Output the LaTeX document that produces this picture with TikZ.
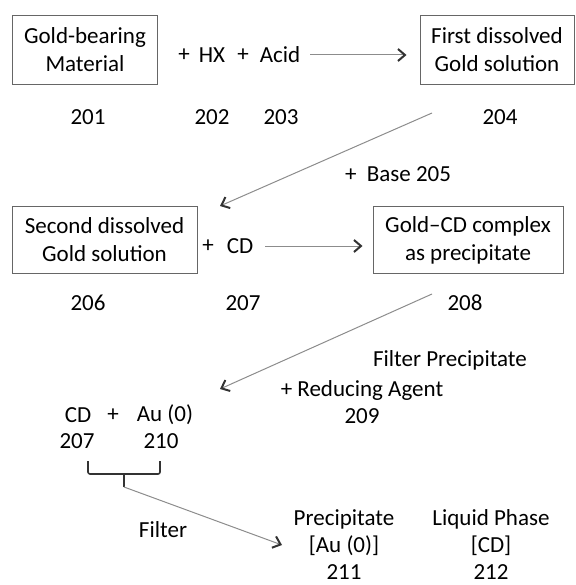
\documentclass[tikz,border=0pt]{standalone}
\usepackage{fontspec}
\setmainfont{Carlito}
\usetikzlibrary{arrows.meta}

\tikzset{
    stepbox/.style={draw=black!60, line width=1pt, inner sep=0pt, align=center},
    lbl/.style={inner sep=0pt, align=center},
    flow/.style={draw=black!45, line width=1pt, -{Straight Barb[length=7pt,width=12pt,line width=2pt,color=black!80]}}
}

\begin{document}
\begin{tikzpicture}[x=1pt, y=-1pt, font=\fontsize{23}{28}\selectfont]

    % 画布边界
    \useasboundingbox (0,0) rectangle (575,585);

    % 第一行：原料与第一溶液
    \node[stepbox, minimum width=145pt, minimum height=69pt] (gbm) at (85,50) {Gold-bearing\\Material};
    \node[lbl] (plusA) at (184,55) {+};
    \node[lbl] (hx) at (212,55) {HX};
    \node[lbl] (plusB) at (243,55) {+};
    \node[lbl] (acid) at (280,55) {Acid};
    \node[stepbox, minimum width=154pt, minimum height=69pt] (fds) at (497,50) {First dissolved\\Gold solution};
    \node[lbl] (n201) at (88,117) {201};
    \node[lbl] (n202) at (212,117) {202};
    \node[lbl] (n203) at (281,117) {203};
    \node[lbl] (n204) at (500,117) {204};
    \draw[flow] ([xshift=10pt]acid.east) -- ([xshift=-13pt]fds.west |- acid.east);

    % 加碱
    \coordinate (baseS) at (432,113);
    \coordinate (baseE) at (220,206);
    \draw[flow] (baseS) -- (baseE);
    \node[lbl] (base) at (398,174) {+\ \ Base 205};

    % 第二行：第二溶液与沉淀
    \node[stepbox, minimum width=185pt, minimum height=67pt] (sds) at (104.5,240) {Second dissolved\\Gold solution};
    \node[lbl] (plusC) at (208,246) {+};
    \node[lbl] (cd) at (240,246) {CD};
    \node[stepbox, minimum width=190pt, minimum height=67pt] (gcd) at (468,240) {Gold--CD complex\\as precipitate};
    \node[lbl] (n206) at (88,303) {206};
    \node[lbl] (n207) at (243,303) {207};
    \node[lbl] (n208) at (465,303) {208};
    \draw[flow] ([xshift=12pt]cd.east) -- ([xshift=-10pt]gcd.west |- cd.east);

    % 过滤并还原
    \coordinate (redS) at (432,294);
    \coordinate (redE) at (220,389);
    \draw[flow] (redS) -- (redE);
    \node[lbl] (filtp) at (450,360) {Filter Precipitate};
    \node[lbl] (red) at (362,390) {+ Reducing Agent};
    \node[lbl] (n209) at (362,416) {209};

    % 第三行：CD 与金
    \node[lbl] (cd2) at (78,415) {CD};
    \node[lbl] (plus) at (113,415) {+};
    \node[lbl] (au) at (165,415) {Au (0)};
    \node[lbl] (n207b) at (77,441) {207};
    \node[lbl] (n210) at (161,441) {210};

    % 括号与过滤箭头
    \draw[black!80, line width=1.6pt, rounded corners=2pt] (88,461) -- (88,474) -- (160,474) -- (160,461);
    \draw[black!80, line width=1.6pt] (124,474) -- (124,487);
    \coordinate (brace) at (124,487);
    \coordinate (filtE) at (282,545);
    \draw[flow] (brace) -- (filtE);
    \node[lbl] (filt) at (163,530) {Filter};

    % 产物
    \node[lbl] (prec) at (344,519) {Precipitate};
    \node[lbl] (auppt) at (344,546) {[Au (0)]};
    \node[lbl] (n211) at (344,572) {211};
    \node[lbl] (liq) at (491,519) {Liquid Phase};
    \node[lbl] (cdliq) at (491,546) {[CD]};
    \node[lbl] (n212) at (491,572) {212};

\end{tikzpicture}
\end{document}
